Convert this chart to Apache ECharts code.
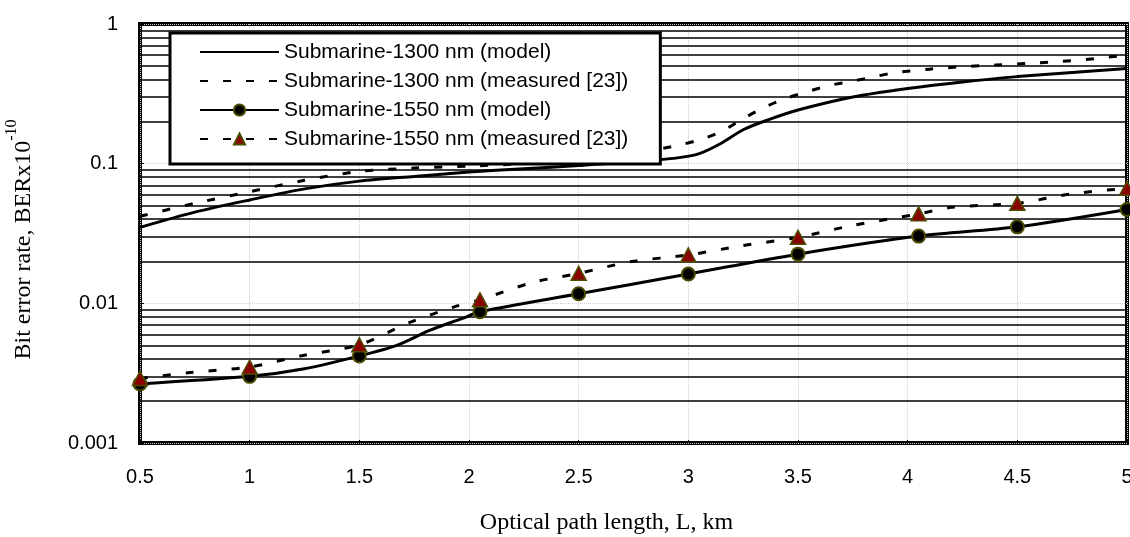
<!DOCTYPE html>
<html>
<head>
<meta charset="utf-8">
<script src="https://cdn.jsdelivr.net/npm/echarts@6/dist/echarts.min.js"></script>
<style>
  html, body { margin: 0; padding: 0; background: #fff; }
  #berChart { width: 1130px; height: 537px; }
</style>
</head>
<body>
<div id="berChart"></div>
<script>
// data
var seriesNames = [
  "Submarine-1300 nm (model)",
  "Submarine-1300 nm (measured [23])",
  "Submarine-1550 nm (model)",
  "Submarine-1550 nm (measured [23])"
];

var model1300X = [0.5, 0.75, 1, 1.25, 1.5, 1.75, 2, 2.25, 2.5, 2.75, 2.95, 3.05, 3.15, 3.25, 3.36, 3.5, 3.75, 4, 4.25, 4.5, 4.75, 5];
var model1300Y = [0.035, 0.045, 0.055, 0.066, 0.075, 0.081, 0.087, 0.092, 0.097, 0.103, 0.11, 0.118, 0.14, 0.175, 0.205, 0.242, 0.3, 0.345, 0.385, 0.42, 0.45, 0.48];

var meas1300X = [0.5, 0.75, 1, 1.25, 1.5, 1.75, 2, 2.25, 2.5, 2.75, 2.95, 3.05, 3.15, 3.25, 3.35, 3.45, 3.55, 3.65, 3.75, 3.85, 3.95, 4.1, 4.25, 4.4, 4.55, 4.7, 4.85, 5];
var meas1300Y = [0.042, 0.052, 0.063, 0.076, 0.088, 0.093, 0.096, 0.1, 0.107, 0.118, 0.135, 0.148, 0.17, 0.21, 0.255, 0.295, 0.33, 0.365, 0.39, 0.42, 0.45, 0.475, 0.495, 0.508, 0.522, 0.54, 0.565, 0.6];

var model1550X = [0.5, 1, 1.25, 1.5, 1.67, 1.82, 1.97, 2.05, 2.5, 3, 3.5, 4.05, 4.5, 5];
var model1550Y = [0.00265, 0.003, 0.0034, 0.0042, 0.005, 0.0064, 0.0078, 0.0087, 0.0117, 0.0162, 0.0225, 0.0303, 0.0353, 0.047];

var meas1550X = [0.5, 0.73, 1, 1.23, 1.5, 1.72, 1.93, 2.05, 2.29, 2.5, 2.74, 3, 3.24, 3.5, 3.74, 4.05, 4.2, 4.5, 4.74, 5];
var meas1550Y = [0.0029, 0.0032, 0.0035, 0.0042, 0.00505, 0.0072, 0.0094, 0.0106, 0.0141, 0.0164, 0.0199, 0.0222, 0.0258, 0.0297, 0.0359, 0.0437, 0.0487, 0.052, 0.0606, 0.0666];

// x positions that carry a marker
var markerX = [0.5, 1, 1.5, 2.05, 2.5, 3, 3.5, 4.05, 4.5, 5];

var yTickLabels = ["0.001", "0.01", "0.1", "1"];
var minorLevels = [
  0.002, 0.003, 0.004, 0.005, 0.006, 0.007, 0.008, 0.009,
  0.02, 0.03, 0.04, 0.05, 0.06, 0.07, 0.08, 0.09,
  0.2, 0.3, 0.4, 0.5, 0.6, 0.7, 0.8, 0.9
];

function buildData(xs, ys, marks) {
  return xs.map(function (x, i) {
    var item = { value: [x, ys[i]] };
    if (marks && marks.indexOf(x) < 0) item.symbol = "none";
    return item;
  });
}

var berChart = echarts.init(document.getElementById("berChart"));
berChart.setOption({
  animation: false,
  backgroundColor: "#fff",
  grid: {
    left: 140,
    right: 3,
    top: 24,
    bottom: 94,
    show: true,
    borderColor: "#000",
    borderWidth: 4,
    backgroundColor: "#fff",
    outerBoundsMode: "none"
  },
  legend: {
    data: seriesNames,
    orient: "vertical",
    left: 170,
    top: 33,
    itemWidth: 79,
    itemHeight: 14,
    itemGap: 7,
    padding: [8, 32, 14, 29],
    backgroundColor: "#fff",
    borderColor: "#000",
    borderWidth: 3,
    selectedMode: false,
    textStyle: {
      fontFamily: "Liberation Sans",
      fontSize: 21,
      lineHeight: 22,
      color: "#000"
    }
  },
  xAxis: {
    type: "value",
    min: 0.5,
    max: 5,
    interval: 0.5,
    name: "Optical path length, L, km",
    nameLocation: "middle",
    nameGap: 68,
    nameTextStyle: {
      fontFamily: "Liberation Serif",
      fontSize: 24,
      color: "#000",
      padding: [0, 54, 0, 0]
    },
    axisLine: { show: false },
    axisTick: { show: true, inside: true, length: 3, lineStyle: { color: "#000" } },
    axisLabel: {
      fontFamily: "Liberation Sans",
      fontSize: 20,
      color: "#000",
      margin: 24
    },
    splitLine: { show: true, lineStyle: { color: "#d0d0d0", type: "dotted", width: 1 } }
  },
  yAxis: {
    type: "log",
    logBase: 10,
    min: 0.001,
    max: 1,
    name: "{a|Bit error rate, BERx10}{b|-10}",
    nameLocation: "middle",
    nameGap: 104,
    nameTextStyle: {
      color: "#000",
      padding: [0, 12, 0, 0],
      rich: {
        a: { fontFamily: "Liberation Serif", fontSize: 24, color: "#000", lineHeight: 32, verticalAlign: "bottom" },
        b: { fontFamily: "Liberation Serif", fontSize: 16, color: "#000", lineHeight: 32, verticalAlign: "top" }
      }
    },
    axisLine: { show: false },
    axisTick: { show: true, inside: true, length: 4, lineStyle: { color: "#000" } },
    axisLabel: {
      fontFamily: "Liberation Sans",
      fontSize: 20,
      color: "#000",
      margin: 22,
      formatter: function (v) {
        return yTickLabels[Math.round(Math.log10(v)) + 3];
      }
    },
    splitLine: { show: true, lineStyle: { color: "#d0d0d0", type: "dotted", width: 1 } }
  },
  series: [
    {
      name: "minorGrid",
      type: "lines",
      coordinateSystem: "cartesian2d",
      silent: true,
      z: 1,
      lineStyle: { color: "#000", width: 1.5, opacity: 1 },
      data: minorLevels.map(function (v) { return { coords: [[0.5, v], [5, v]] }; })
    },
    {
      name: seriesNames[0],
      type: "line",
      z: 3,
      data: buildData(model1300X, model1300Y),
      symbol: "none",
      smooth: 0.3,
      lineStyle: { color: "#000", width: 3 },
      itemStyle: { color: "rgba(0,0,0,0)" }
    },
    {
      name: seriesNames[1],
      type: "line",
      z: 3,
      data: buildData(meas1300X, meas1300Y),
      symbol: "none",
      smooth: 0.3,
      lineStyle: { color: "#000", width: 3, type: [8, 15] },
      itemStyle: { color: "rgba(0,0,0,0)" }
    },
    {
      name: seriesNames[2],
      type: "line",
      z: 4,
      data: buildData(model1550X, model1550Y, markerX),
      symbol: "circle",
      symbolSize: 13,
      smooth: 0.3,
      lineStyle: { color: "#000", width: 3 },
      itemStyle: { color: "#000", borderColor: "#4a4a00", borderWidth: 2 }
    },
    {
      name: seriesNames[3],
      type: "line",
      z: 5,
      data: buildData(meas1550X, meas1550Y, markerX),
      symbol: "triangle",
      symbolSize: [15, 14],
      smooth: 0.3,
      lineStyle: { color: "#000", width: 3, type: [8, 15] },
      itemStyle: { color: "#8b0000", borderColor: "#4d4d00", borderWidth: 1.5 }
    }
  ]
});
</script>
</body>
</html>
